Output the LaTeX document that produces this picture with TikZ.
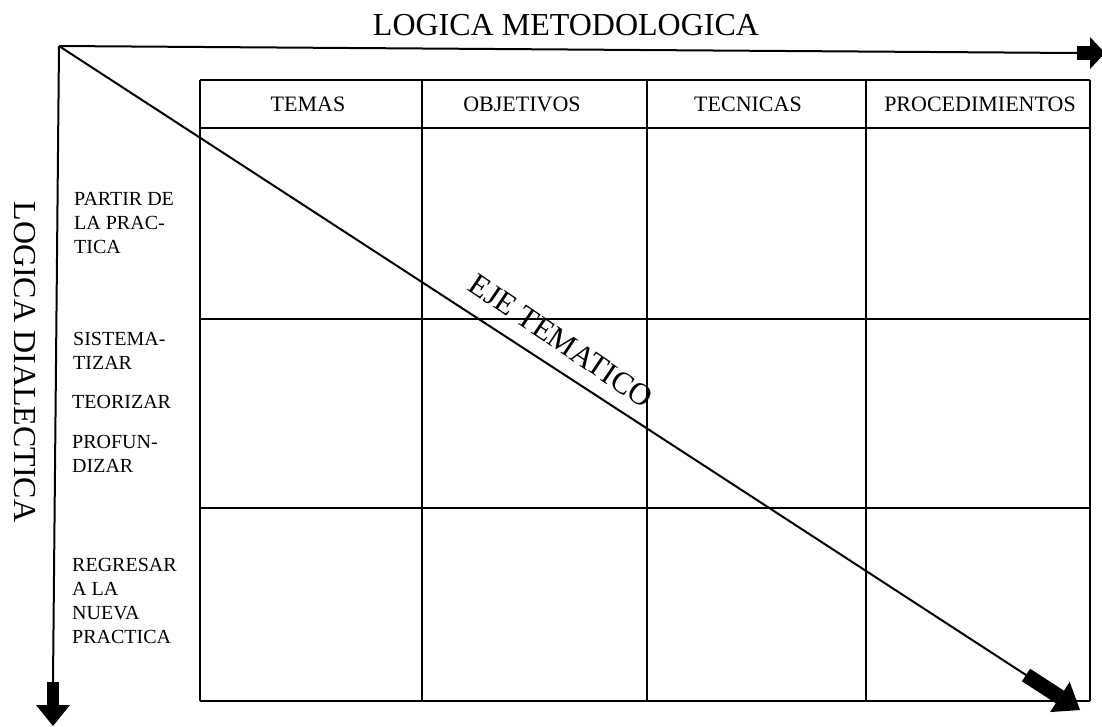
\documentclass[tikz,border=0pt]{standalone}
\usepackage{fontspec}
\setmainfont{Liberation Serif}
\usetikzlibrary{arrows.meta}
\begin{document}
\begin{tikzpicture}[x=1pt,y=-1pt,
  axisline/.style={line width=2pt},
  gridline/.style={line width=1.8pt},
  fatvert/.style={line width=12pt,-{Triangle[width=34pt,length=21pt,line width=0pt]}},
  fathoriz/.style={line width=14pt,-{Triangle[width=32pt,length=15pt,line width=0pt]}},
  fatdiag/.style={line width=15pt,-{Triangle[width=36pt,length=24pt,line width=0pt]}},
  headtext/.style={font=\fontsize{22}{26}\selectfont, inner sep=0pt},
  stagetext/.style={font=\fontsize{20}{24}\selectfont, align=left, anchor=north west, inner sep=0pt},
  titletext/.style={font=\fontsize{32}{36}\selectfont, inner sep=0pt},
]
\useasboundingbox (0,0) rectangle (1102,726);

% axes
\coordinate (O) at (59,46);
\coordinate (Vs) at (53,682);
\coordinate (Vt) at (53,726);
\coordinate (Hs) at (1077,53);
\coordinate (Ht) at (1105,53);
\coordinate (Ds) at (1026,675);
\coordinate (Dt) at (1080,710);

\draw[axisline] (O) -- (Vs);
\draw[fatvert] (Vs) -- (Vt);
\draw[axisline] (O) -- (Hs);
\draw[fathoriz] (Hs) -- (Ht);

% table
\foreach \x in {200,422,647,866,1090}
  \draw[gridline] (\x,80) -- (\x,701);
\foreach \y in {80,128,319,508,701}
  \draw[gridline] (200,\y) -- (1090,\y);

% diagonal
\draw[axisline] (O) -- (Ds);
\draw[fatdiag] (Ds) -- (Dt);

% titles
\node[titletext] (tm) at (566,25) {LOGICA METODOLOGICA};
\node[titletext, rotate=-90] (td) at (25,362) {LOGICA DIALECTICA};
\node[font=\fontsize{31}{34}\selectfont, inner sep=0pt, rotate=-34] (eje) at (561,341) {EJE TEMATICO};

% headers
\node[headtext] (h1) at (308,104) {TEMAS};
\node[headtext] (h2) at (522,104) {OBJETIVOS};
\node[headtext] (h3) at (748,104) {TECNICAS};
\node[headtext] (h4) at (980,104) {PROCEDIMIENTOS};

% stages
\node[stagetext] (s1) at (74,192) {PARTIR DE\\LA PRAC-\\TICA};
\node[stagetext] (s2) at (73,332) {SISTEMA-\\TIZAR};
\node[stagetext] (s3) at (72,395) {TEORIZAR};
\node[stagetext] (s4) at (72,435) {PROFUN-\\DIZAR};
\node[stagetext] (s5) at (72,558) {REGRESAR\\A LA\\NUEVA\\PRACTICA};
\end{tikzpicture}
\end{document}
